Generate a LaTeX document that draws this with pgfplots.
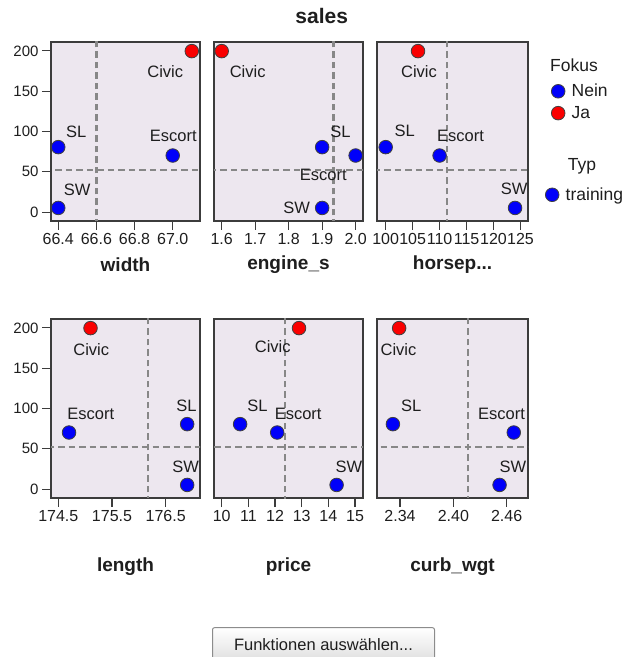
\documentclass[border=0pt]{standalone}
\usepackage{pgfplots}
\pgfplotsset{compat=1.18}
\usepackage{fontspec}
\setmainfont{Liberation Sans}
\definecolor{bgc}{RGB}{237,231,239}
\definecolor{axc}{RGB}{60,60,60}
\definecolor{refc}{RGB}{135,135,135}
\definecolor{ptblue}{RGB}{0,0,250}
\definecolor{ptred}{RGB}{250,0,0}
\definecolor{txt}{RGB}{30,30,30}
\definecolor{btnb}{RGB}{140,140,140}
\newcommand{\fs}[1]{\fontsize{#1}{#1}\selectfont}
\tikzset{
  pts/.style={only marks, mark=*, mark size=6.8pt, mark options={draw=black!75, line width=0.8pt}},
  lbl/.style={font=\fs{16.5}, text=txt, inner sep=0pt},
}
\pgfplotsset{
  panel/.style={
    scale only axis, height=179pt, anchor=north west,
    axis background/.style={fill=bgc},
    axis line style={draw=axc, line width=1.5pt},
    ymin=-11, ymax=211,
    tick align=outside, major tick length=9pt,
    tick style={draw=axc, line width=1.2pt},
    xtick pos=bottom, ytick pos=left,
    ytick={0,50,100,150,200},
    /pgf/number format/assume math mode=true,
    x tick label style={font=\fs{16}, text=txt},
    y tick label style={font=\fs{15}, text=txt},
    xlabel style={font=\bfseries\fs{19}, text=txt, at={(axis description cs:0.5,0)}, anchor=center},
    clip=true,
  },
  noy/.style={ytick=\empty},
  refl/.style={draw=refc, line width=2.2pt, dash pattern=on 6.5pt off 4pt, forget plot},
  fmt1/.style={xticklabel style={/pgf/number format/.cd, fixed, zerofill, precision=1, 1000 sep={}}},
  leg/.style={hide axis, scale only axis, width=10pt, height=10pt, anchor=north west,
    xmin=0, xmax=1, ymin=0, ymax=1, legend cell align=left,
    legend image code/.code={\draw[##1] plot coordinates {(7pt,0pt)}; \path[draw=none, fill=none] (0pt,0pt) rectangle (19pt,0.1pt);},
    legend style={at={(0,1)}, anchor=north west, draw=none, fill=none, inner sep=0pt,
      font=\fs{17.5}, text=txt, nodes={inner sep=1.5pt}}},
}
\begin{document}
\begin{tikzpicture}
\useasboundingbox (0,0) rectangle (627pt,657pt);
\node[font=\bfseries\fs{21}, text=txt] at (321.7pt,641pt) {sales};

% ---------- width ----------
\begin{axis}[panel, width=149pt, at={(51pt,615pt)}, xmin=66.362, xmax=67.143,
  xtick={66.4,66.6,66.8,67.0}, fmt1, xlabel={width}, xlabel style={yshift=-44pt}]
\addplot[refl] coordinates {(66.6,-30) (66.6,230)};
\addplot[refl] coordinates {(66,52) (68,52)};
\node[lbl, xshift=-26.5pt, yshift=-20pt] at (axis cs:67.1,199.7) {Civic};
\node[lbl, xshift=18pt, yshift=15.5pt] at (axis cs:66.4,80.6) {SL};
\node[lbl, xshift=0.5pt, yshift=19.5pt] at (axis cs:67.0,70.2) {Escort};
\node[lbl, xshift=19pt, yshift=18pt] at (axis cs:66.4,5.2) {SW};
\addplot[pts, fill=ptblue] coordinates {(66.4,80.6) (67.0,70.2) (66.4,5.2)};
\addplot[pts, fill=ptred] coordinates {(67.1,199.7)};
\end{axis}

% ---------- engine_s ----------
\begin{axis}[panel, noy, width=149pt, at={(214pt,615pt)}, xmin=1.577, xmax=2.022,
  xtick={1.6,1.7,1.8,1.9,2.0}, fmt1, xlabel={engine\_s}, xlabel style={yshift=-44pt}]
\addplot[refl] coordinates {(1.934,-30) (1.934,230)};
\addplot[refl] coordinates {(1,52) (3,52)};
\node[lbl, xshift=26pt, yshift=-20pt] at (axis cs:1.6,199.7) {Civic};
\node[lbl, xshift=18.4pt, yshift=15.3pt] at (axis cs:1.9,80.6) {SL};
\node[lbl, xshift=-32.4pt, yshift=-19.3pt] at (axis cs:2.0,70.2) {Escort};
\node[lbl, xshift=-25.6pt, yshift=0pt] at (axis cs:1.9,5.2) {SW};
\addplot[pts, fill=ptblue] coordinates {(1.9,80.6) (2.0,70.2) (1.9,5.2)};
\addplot[pts, fill=ptred] coordinates {(1.6,199.7)};
\end{axis}

% ---------- horsepow ----------
\begin{axis}[panel, noy, width=151pt, at={(377pt,615pt)}, xmin=98.39, xmax=126.4,
  xtick={100,105,110,115,120,125}, xlabel={horsep...}, xlabel style={yshift=-44pt}]
\addplot[refl] coordinates {(111.4,-30) (111.4,230)};
\addplot[refl] coordinates {(90,52) (130,52)};
\node[lbl, xshift=1pt, yshift=-20pt] at (axis cs:106,199.7) {Civic};
\node[lbl, xshift=19pt, yshift=16pt] at (axis cs:100,80.6) {SL};
\node[lbl, xshift=21pt, yshift=20pt] at (axis cs:110,70.2) {Escort};
\node[lbl, xshift=-1pt, yshift=19pt] at (axis cs:124,5.2) {SW};
\addplot[pts, fill=ptblue] coordinates {(100,80.6) (110,70.2) (124,5.2)};
\addplot[pts, fill=ptred] coordinates {(106,199.7)};
\end{axis}

% ---------- length ----------
\begin{axis}[panel, width=149pt, at={(51pt,338pt)}, xmin=174.364, xmax=177.139,
  xtick={174.5,175.5,176.5}, fmt1, xlabel={length}, xlabel style={yshift=-68.7pt}]
\addplot[refl] coordinates {(176.17,-30) (176.17,230)};
\addplot[refl] coordinates {(170,52) (180,52)};
\node[lbl, xshift=0.7pt, yshift=-21.7pt] at (axis cs:175.1,199.7) {Civic};
\node[lbl, xshift=21.7pt, yshift=19pt] at (axis cs:174.7,70.2) {Escort};
\node[lbl, xshift=-0.6pt, yshift=18pt] at (axis cs:176.9,80.6) {SL};
\node[lbl, xshift=-1.6pt, yshift=17.7pt] at (axis cs:176.9,5.2) {SW};
\addplot[pts, fill=ptblue] coordinates {(176.9,80.6) (174.7,70.2) (176.9,5.2)};
\addplot[pts, fill=ptred] coordinates {(175.1,199.7)};
\end{axis}

% ---------- price ----------
\begin{axis}[panel, noy, width=149pt, at={(214pt,338pt)}, xmin=9.71, xmax=15.3,
  xtick={10,11,12,13,14,15}, xlabel={price}, xlabel style={yshift=-68.7pt}]
\addplot[refl] coordinates {(12.385,-30) (12.385,230)};
\addplot[refl] coordinates {(5,52) (20,52)};
\node[lbl, xshift=-26.3pt, yshift=-18.4pt] at (axis cs:12.9,199.7) {Civic};
\node[lbl, xshift=17.3pt, yshift=18pt] at (axis cs:10.69,80.6) {SL};
\node[lbl, xshift=21pt, yshift=19pt] at (axis cs:12.08,70.2) {Escort};
\node[lbl, xshift=12.3pt, yshift=18.3pt] at (axis cs:14.31,5.2) {SW};
\addplot[pts, fill=ptblue] coordinates {(10.69,80.6) (12.08,70.2) (14.31,5.2)};
\addplot[pts, fill=ptred] coordinates {(12.9,199.7)};
\end{axis}

% ---------- curb_wgt ----------
\begin{axis}[panel, noy, width=151pt, at={(377pt,338pt)}, xmin=2.3141, xmax=2.484,
  xtick={2.34,2.40,2.46},
  xticklabel style={/pgf/number format/.cd, fixed, zerofill, precision=2},
  xlabel={curb\_wgt}, xlabel style={yshift=-68.7pt}]
\addplot[refl] coordinates {(2.4169,-30) (2.4169,230)};
\addplot[refl] coordinates {(2.2,52) (2.6,52)};
\node[lbl, xshift=-0.6pt, yshift=-21.7pt] at (axis cs:2.339,199.7) {Civic};
\node[lbl, xshift=18.4pt, yshift=18pt] at (axis cs:2.332,80.6) {SL};
\node[lbl, xshift=-12.3pt, yshift=19pt] at (axis cs:2.468,70.2) {Escort};
\node[lbl, xshift=13.4pt, yshift=18.6pt] at (axis cs:2.452,5.2) {SW};
\addplot[pts, fill=ptblue] coordinates {(2.332,80.6) (2.468,70.2) (2.452,5.2)};
\addplot[pts, fill=ptred] coordinates {(2.339,199.7)};
\end{axis}

% ---------- legend: Fokus ----------
\node[anchor=west, font=\fs{17.5}, text=txt, inner sep=0pt] at (550pt,592pt) {Fokus};
\begin{axis}[leg, at={(551pt,574.5pt)}, legend style={row sep=5pt}]
\addlegendimage{pts, fill=ptblue}\addlegendentry{Nein}
\addlegendimage{pts, fill=ptred}\addlegendentry{Ja}
\end{axis}

% ---------- legend: Typ ----------
\node[anchor=west, font=\fs{17.5}, text=txt, inner sep=0pt] at (567.7pt,490.3pt) {Typ};
\begin{axis}[leg, at={(545pt,471pt)}]
\addlegendimage{pts, fill=ptblue}\addlegendentry{training}
\end{axis}

% ---------- button ----------
\shade[top color=white, bottom color=black!13, draw=btnb, line width=1pt, rounded corners=2pt]
  (212.5pt,-6pt) rectangle (434.5pt,29.3pt);
\node[font=\fs{16.5}, text=txt] at (323.5pt,12pt) {Funktionen auswählen...};
\end{tikzpicture}
\end{document}
